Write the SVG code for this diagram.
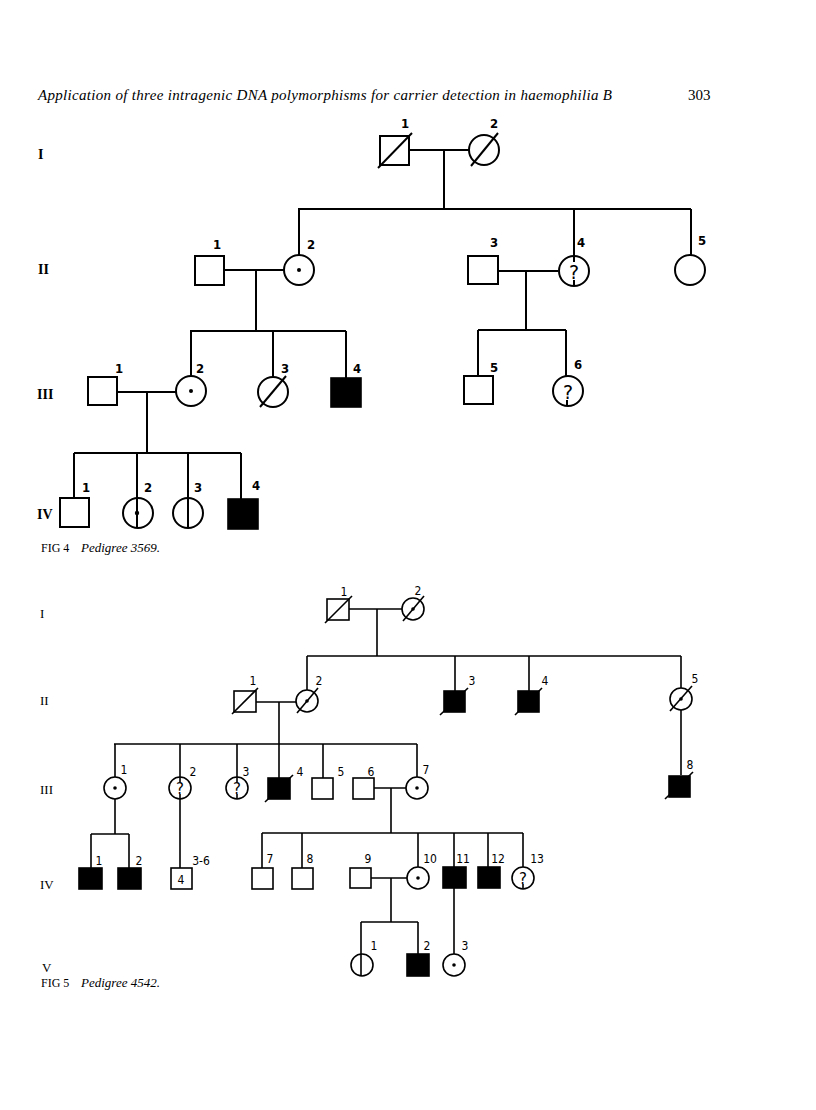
<svg xmlns="http://www.w3.org/2000/svg" width="816" height="1110" viewBox="0 0 816 1110">
<style>
.bg{fill:#fff}
.ln{stroke:#000;stroke-width:2;fill:none}
.ln5{stroke:#000;stroke-width:1.6;fill:none}
.s4{fill:#fff;stroke:#000;stroke-width:2}
.s5{fill:#fff;stroke:#000;stroke-width:1.6}
.a{fill:#000;stroke:#000;stroke-width:1.6}
.dot{fill:#000}
.hd{font-family:"Liberation Serif",serif;font-style:italic;font-size:15px}
.pg{font-family:"Liberation Serif",serif;font-size:15px}
.rn{font-family:"Liberation Serif",serif;font-weight:bold;font-size:14px}
.rn5{font-family:"Liberation Serif",serif;font-size:13px}
.l4{font-family:"DejaVu Sans Condensed","DejaVu Sans",sans-serif;font-weight:bold;font-size:13px;text-anchor:middle}
.l5{font-family:"DejaVu Sans Condensed","DejaVu Sans",sans-serif;font-size:12px;text-anchor:middle}
.q4{font-family:"DejaVu Sans",sans-serif;font-size:19px;text-anchor:middle}
.q5{font-family:"DejaVu Sans",sans-serif;font-size:15px;text-anchor:middle}
.cap{font-family:"Liberation Serif",serif;font-size:12px}
.capi{font-family:"Liberation Serif",serif;font-style:italic;font-size:13px}
</style>
<rect class="bg" x="0" y="0" width="816" height="1110"/>
<text class="hd" x="38" y="100" textLength="574">Application of three intragenic DNA polymorphisms for carrier detection in haemophilia B</text>
<text class="pg" x="688" y="100">303</text>

<!-- ===== FIG 4 ===== -->
<g id="fig4-generations">
<text class="rn" x="38" y="159">I</text>
<text class="rn" x="38" y="274">II</text>
<text class="rn" x="37" y="399">III</text>
<text class="rn" x="37" y="519">IV</text>
</g>
<g id="fig4-connectors">
<path class="ln" d="M409 150H469M444 150V209M298 209H691M299 209V255M574 209V263M691 209V255"/>
<path class="ln" d="M224 270H284M256 270V331M190 331H346M191 331V376M273 331V377M346 331V378"/>
<path class="ln" d="M498 271H558M526 271V330M478 330H566M478 330V376M566 330V384"/>
<path class="ln" d="M117 392H176M147 392V453M74 453H241M74 453V498M137 453V528M188 453V528M241 453V499"/>
</g>
<g id="f4-I-1"><rect class="s4" x="380" y="136" width="29" height="29"/><line class="ln" x1="378" y1="168" x2="412" y2="133"/><text class="l4" x="405" y="128">1</text></g>
<g id="f4-I-2"><circle class="s4" cx="484" cy="150" r="15"/><line class="ln" x1="471" y1="166" x2="498" y2="133"/><text class="l4" x="494" y="128">2</text></g>
<g id="f4-II-1"><rect class="s4" x="195" y="256" width="29" height="29"/><text class="l4" x="217" y="249">1</text></g>
<g id="f4-II-2"><circle class="s4" cx="299" cy="270" r="15"/><circle class="dot" cx="299" cy="270" r="2"/><text class="l4" x="311" y="249">2</text></g>
<g id="f4-II-3"><rect class="s4" x="468" y="256" width="30" height="28"/><text class="l4" x="494" y="247">3</text></g>
<g id="f4-II-4"><circle class="s4" cx="574" cy="271" r="15"/><text class="q4" x="574" y="279">?</text><line class="ln" x1="574" y1="256" x2="574" y2="262"/><line class="ln" x1="574" y1="280" x2="574" y2="286"/><text class="l4" x="581" y="247">4</text></g>
<g id="f4-II-5"><circle class="s4" cx="690" cy="270" r="15"/><text class="l4" x="702" y="245">5</text></g>
<g id="f4-III-1"><rect class="s4" x="88" y="377" width="29" height="28"/><text class="l4" x="119" y="373">1</text></g>
<g id="f4-III-2"><circle class="s4" cx="191" cy="391" r="15"/><circle class="dot" cx="191" cy="391" r="2"/><text class="l4" x="200" y="373">2</text></g>
<g id="f4-III-3"><circle class="s4" cx="273" cy="392" r="15"/><line class="ln" x1="260" y1="407" x2="286" y2="376"/><text class="l4" x="285" y="373">3</text></g>
<g id="f4-III-4"><rect class="a" x="331" y="378" width="30" height="29"/><text class="l4" x="357" y="373">4</text></g>
<g id="f4-III-5"><rect class="s4" x="464" y="376" width="29" height="28"/><text class="l4" x="494" y="372">5</text></g>
<g id="f4-III-6"><circle class="s4" cx="568" cy="391" r="15"/><text class="q4" x="568" y="399">?</text><line class="ln" x1="567" y1="400" x2="567" y2="406"/><text class="l4" x="578" y="369">6</text></g>
<g id="f4-IV-1"><rect class="s4" x="60" y="498" width="29" height="29"/><text class="l4" x="86" y="492">1</text></g>
<g id="f4-IV-2"><circle class="s4" cx="138" cy="513" r="15"/><line class="ln" x1="137" y1="498" x2="137" y2="528"/><circle class="dot" cx="137" cy="513" r="2.2"/><text class="l4" x="148" y="492">2</text></g>
<g id="f4-IV-3"><circle class="s4" cx="188" cy="513" r="15"/><line class="ln" x1="188" y1="498" x2="188" y2="528"/><text class="l4" x="198" y="492">3</text></g>
<g id="f4-IV-4"><rect class="a" x="228" y="499" width="30" height="30"/><text class="l4" x="256" y="490">4</text></g>
<g id="fig4-caption"><text class="cap" x="41" y="552">FIG 4</text><text class="capi" x="81" y="552">Pedigree 3569.</text></g>

<!-- ===== FIG 5 ===== -->
<g id="fig5-generations">
<text class="rn5" x="40" y="618">I</text>
<text class="rn5" x="40" y="705">II</text>
<text class="rn5" x="40" y="794">III</text>
<text class="rn5" x="40" y="889">IV</text>
<text class="rn5" x="42" y="972">V</text>
</g>
<g id="fig5-connectors">
<path class="ln5" d="M349 609H402M377 609V656M307 656H681M307 656V690M455 656V691M529 656V691M681 656V688M681 710V775"/>
<path class="ln5" d="M256 702H296M279 702V744M114 744H417M115 744V777M180 744V777M237 744V777M279 744V778M323 744V778M417 744V777"/>
<path class="ln5" d="M374 788H406M391 788V833"/>
<path class="ln5" d="M115 799V834M91 834H129M91 834V868M129 834V868M180 799V868"/>
<path class="ln5" d="M262 833H523M262 833V868M302 833V868M418 833V867M454 833V867M488 833V867M523 833V867"/>
<path class="ln5" d="M371 878H407M391 878V922M361 922H418M361 922V954M418 922V954M454 888V954"/>
</g>
<g id="f5-I-1"><rect class="s5" x="327" y="599" width="22" height="21"/><line class="ln5" x1="325" y1="623" x2="352" y2="596"/><text class="l5" x="344" y="596">1</text></g>
<g id="f5-I-2"><circle class="s5" cx="413" cy="609" r="11"/><circle class="dot" cx="413" cy="609" r="1.8"/><line class="ln5" x1="403" y1="621" x2="424" y2="596"/><text class="l5" x="418" y="595">2</text></g>
<g id="f5-II-1"><rect class="s5" x="234" y="691" width="22" height="21"/><line class="ln5" x1="232" y1="714" x2="258" y2="688"/><text class="l5" x="253" y="685">1</text></g>
<g id="f5-II-2"><circle class="s5" cx="307" cy="701" r="11"/><circle class="dot" cx="307" cy="701" r="1.8"/><line class="ln5" x1="297" y1="713" x2="318" y2="688"/><text class="l5" x="319" y="685">2</text></g>
<g id="f5-II-3"><rect class="a" x="444" y="691" width="21" height="21"/><line class="ln5" x1="440" y1="715" x2="468" y2="688"/><text class="l5" x="472" y="685">3</text></g>
<g id="f5-II-4"><rect class="a" x="518" y="691" width="21" height="21"/><line class="ln5" x1="515" y1="715" x2="542" y2="688"/><text class="l5" x="545" y="685">4</text></g>
<g id="f5-II-5"><circle class="s5" cx="681" cy="699" r="11"/><circle class="dot" cx="681" cy="699" r="1.8"/><line class="ln5" x1="670" y1="711" x2="692" y2="686"/><text class="l5" x="695" y="683">5</text></g>
<g id="f5-III-1"><circle class="s5" cx="115" cy="788" r="11"/><circle class="dot" cx="115" cy="788" r="1.8"/><text class="l5" x="124" y="774">1</text></g>
<g id="f5-III-2"><circle class="s5" cx="180" cy="788" r="11"/><text class="q5" x="180" y="794">?</text><line class="ln5" x1="180" y1="777" x2="180" y2="782"/><line class="ln5" x1="180" y1="794" x2="180" y2="799"/><text class="l5" x="193" y="776">2</text></g>
<g id="f5-III-3"><circle class="s5" cx="237" cy="788" r="11"/><text class="q5" x="237" y="794">?</text><line class="ln5" x1="237" y1="777" x2="237" y2="782"/><line class="ln5" x1="237" y1="794" x2="237" y2="799"/><text class="l5" x="246" y="776">3</text></g>
<g id="f5-III-4"><rect class="a" x="268" y="778" width="22" height="21"/><line class="ln5" x1="265" y1="802" x2="293" y2="775"/><text class="l5" x="300" y="776">4</text></g>
<g id="f5-III-5"><rect class="s5" x="312" y="778" width="21" height="21"/><text class="l5" x="341" y="776">5</text></g>
<g id="f5-III-6"><rect class="s5" x="353" y="778" width="21" height="21"/><text class="l5" x="371" y="776">6</text></g>
<g id="f5-III-7"><circle class="s5" cx="417" cy="788" r="11"/><circle class="dot" cx="417" cy="788" r="1.8"/><text class="l5" x="426" y="774">7</text></g>
<g id="f5-III-8"><rect class="a" x="669" y="776" width="21" height="21"/><line class="ln5" x1="665" y1="799" x2="693" y2="772"/><text class="l5" x="690" y="769">8</text></g>
<g id="f5-IV-1"><rect class="a" x="79" y="868" width="23" height="21"/><text class="l5" x="99" y="865">1</text></g>
<g id="f5-IV-2"><rect class="a" x="118" y="868" width="23" height="21"/><text class="l5" x="139" y="865">2</text></g>
<g id="f5-IV-3-6"><rect class="s5" x="171" y="868" width="21" height="21"/><text class="l5" x="181" y="884">4</text><text class="l5" x="201" y="865">3-6</text></g>
<g id="f5-IV-7"><rect class="s5" x="252" y="868" width="21" height="21"/><text class="l5" x="270" y="863">7</text></g>
<g id="f5-IV-8"><rect class="s5" x="292" y="868" width="21" height="21"/><text class="l5" x="310" y="863">8</text></g>
<g id="f5-IV-9"><rect class="s5" x="350" y="868" width="21" height="20"/><text class="l5" x="368" y="863">9</text></g>
<g id="f5-IV-10"><circle class="s5" cx="418" cy="878" r="11"/><circle class="dot" cx="418" cy="878" r="1.8"/><text class="l5" x="430" y="863">10</text></g>
<g id="f5-IV-11"><rect class="a" x="443" y="867" width="23" height="21"/><text class="l5" x="463" y="863">11</text></g>
<g id="f5-IV-12"><rect class="a" x="478" y="867" width="22" height="21"/><text class="l5" x="498" y="863">12</text></g>
<g id="f5-IV-13"><circle class="s5" cx="523" cy="878" r="11"/><text class="q5" x="523" y="884">?</text><line class="ln5" x1="523" y1="884" x2="523" y2="889"/><text class="l5" x="537" y="863">13</text></g>
<g id="f5-V-1"><circle class="s5" cx="362" cy="965" r="11"/><line class="ln5" x1="361" y1="954" x2="361" y2="976"/><text class="l5" x="374" y="950">1</text></g>
<g id="f5-V-2"><rect class="a" x="407" y="954" width="22" height="22"/><text class="l5" x="427" y="950">2</text></g>
<g id="f5-V-3"><circle class="s5" cx="454" cy="965" r="11"/><circle class="dot" cx="454" cy="965" r="1.8"/><text class="l5" x="465" y="950">3</text></g>
<g id="fig5-caption"><text class="cap" x="41" y="987">FIG 5</text><text class="capi" x="81" y="987">Pedigree 4542.</text></g>
</svg>
